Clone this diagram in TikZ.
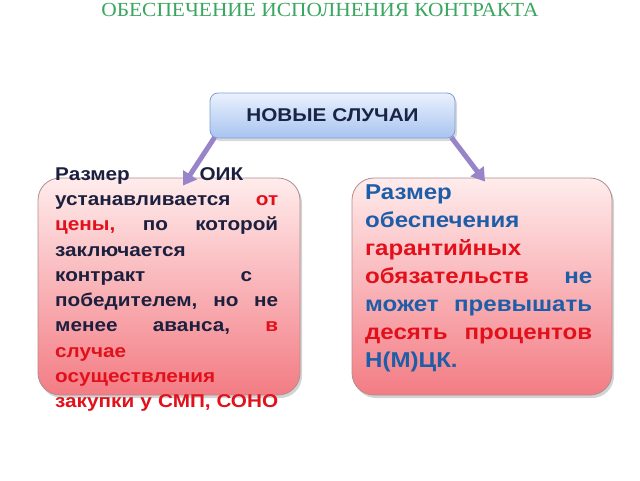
\documentclass[tikz,border=0pt]{standalone}
\usepackage{fontspec}
\setmainfont[FakeStretch=1.12]{Liberation Sans}
\newfontfamily\tserif[FakeStretch=1.07]{Liberation Serif}
\usetikzlibrary{shadows,arrows.meta,calc}
\definecolor{titlegreen}{RGB}{58,166,96}
\definecolor{navy}{RGB}{28,32,62}
\definecolor{redtxt}{RGB}{226,16,26}
\definecolor{bluetxt}{RGB}{30,94,168}
\definecolor{arrowpurple}{RGB}{152,132,200}
\tikzset{
  pinkbox/.style={draw=black!25!pink!80!gray, line width=0.8pt, rounded corners=22pt,
    top color=pink!30!white, bottom color={rgb,255:red,243;green,124;blue,132},
    drop shadow={opacity=0.35, shadow xshift=2pt, shadow yshift=-3pt}},
  bluebox/.style={draw={rgb,255:red,128;green,158;blue,212}, line width=0.8pt, rounded corners=8pt,
    top color={rgb,255:red,234;green,241;blue,253}, bottom color={rgb,255:red,168;green,196;blue,240},
    drop shadow={opacity=0.3, shadow xshift=2pt, shadow yshift=-3pt}},
  bodytxt/.style={inner sep=0pt, align=left},
  arr/.style={draw=arrowpurple, line width=5pt, -{Triangle[width=16pt,length=13pt]}}
}
\begin{document}
\begin{tikzpicture}[x=1pt,y=-1pt]
\useasboundingbox (0,0) rectangle (640,480);
\node[text=titlegreen, font=\tserif\fontsize{20}{22}\selectfont, inner sep=0pt] (title) at (320,9.5) {ОБЕСПЕЧЕНИЕ ИСПОЛНЕНИЯ КОНТРАКТА};

\node[bluebox, minimum width=245pt, minimum height=45pt, inner sep=0pt] (top) at (332.5,115.5) {};
\node[font=\bfseries\fontsize{18.5}{20}\selectfont, text={rgb,255:red,26;green,36;blue,70}, inner sep=0pt] (toptxt) at (top.center) {НОВЫЕ СЛУЧАИ};

\node[pinkbox, minimum width=262pt, minimum height=217pt, inner sep=0pt] (lbox) at (169,286.5) {};
\node[pinkbox, minimum width=260pt, minimum height=217pt, inner sep=0pt] (rbox) at (482,286.5) {};

\draw[arr] ($(top.south west)+(5,-1)$) -- ($(lbox.north)+(14,8)$);
\draw[arr] ($(top.south east)+(-4,-1)$) -- ($(rbox.north)+(3,4)$);

\node[bodytxt, text width=223pt, text=navy, anchor=north west, font=\bfseries\fontsize{18.5}{25.3}\selectfont] (ltxt) at (55,167)
{Размер\hfill ОИК\kern35pt\\
устанавливается\hfill \textcolor{redtxt}{от}\\
\textcolor{redtxt}{цены,}\hfill по\hfill которой\\
заключается\\
контракт\hfill с\kern26pt\\
победителем,\hfill но\hfill не\\
менее\hfill аванса,\hfill \textcolor{redtxt}{в}\\
\textcolor{redtxt}{случае}\\
\textcolor{redtxt}{осуществления}\\
\textcolor{redtxt}{закупки у СМП,\hfill СОНО}};

\node[bodytxt, text width=227pt, text=bluetxt, anchor=north west, font=\bfseries\fontsize{21.5}{28}\selectfont] (rtxt) at (365,185)
{Размер\\
обеспечения\\
\textcolor{redtxt}{гарантийных}\\
\textcolor{redtxt}{обязательств}\hfill не\\
может\hfill превышать\\
\textcolor{redtxt}{десять\hfill процентов}\\
Н(М)ЦК.};
\end{tikzpicture}
\end{document}
